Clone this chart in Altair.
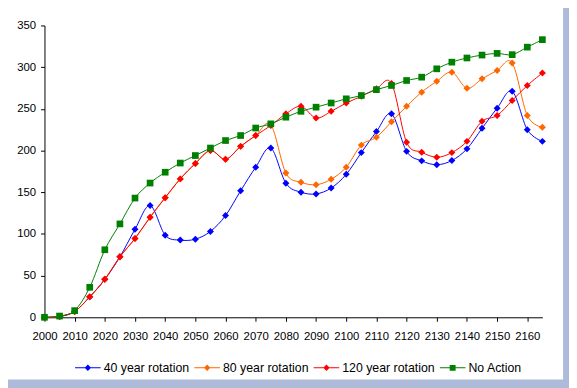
import altair as alt
import pandas as pd

years = [2000, 2005, 2010, 2015, 2020, 2025, 2030, 2035, 2040, 2045, 2050, 2055,
         2060, 2065, 2070, 2075, 2080, 2085, 2090, 2095, 2100, 2105, 2110, 2115,
         2120, 2125, 2130, 2135, 2140, 2145, 2150, 2155, 2160, 2165]

rot40 = [0, 1, 7, 24.5, 45.5, 72.5, 105.5, 134, 98.5, 92.6, 93.7, 103,
         122, 151.7, 180, 203, 160.8, 150, 148, 155, 171.5, 197.5, 222.7, 244,
         199, 187.6, 183, 188, 202, 226.6, 250.7, 271, 225, 211]

rot80 = [0, 1, 7, 24.5, 45.5, 72.5, 94.5, 120, 143.5, 166, 184.5, 200,
         189.5, 205, 218, 231, 173, 162, 159, 165.5, 180, 206.5, 216, 234.5,
         253, 270, 283, 294, 274.7, 286, 296, 305, 242, 228]

rot120 = [0, 1, 7, 24.5, 45.5, 72.5, 94.5, 120, 143.5, 166, 184.5, 200,
          189.5, 205, 218, 230, 244, 253, 239, 247, 257, 265, 274, 280.5,
          210, 198, 192, 197.5, 211, 235, 242, 260, 278, 293]

no_action = [0, 1.5, 8, 36, 81, 112, 143, 161, 174, 185, 194, 203,
             212, 218, 227, 232, 240, 247, 252, 257, 262, 266, 273, 278,
             284, 288, 298, 306, 311, 314.5, 316.5, 315, 324, 333]

series_names = ["40 year rotation", "80 year rotation", "120 year rotation", "No Action"]
series_colors = ["#0000FF", "#FF6600", "#FF0000", "#008000"]
series_shapes = ["diamond", "diamond", "diamond", "square"]

x_ticks = [2000, 2010, 2020, 2030, 2040, 2050, 2060, 2070, 2080,
           2090, 2100, 2110, 2120, 2130, 2140, 2150, 2160]
y_ticks = [0, 50, 100, 150, 200, 250, 300, 350]

rows = []
for name, vals in zip(series_names, [rot40, rot80, rot120, no_action]):
    for yr, v in zip(years, vals):
        rows.append({"year": yr, "value": v, "series": name})
df = pd.DataFrame(rows)

FONT = "Liberation Sans"
BORDER = "#AEBAD9"

x_enc = alt.X(
    "year:Q",
    scale=alt.Scale(domain=[2000, 2165], nice=False, zero=False),
    axis=alt.Axis(values=x_ticks, format="d", title=None, grid=False,
                  tickSize=4, labelPadding=10, domainColor="black",
                  tickColor="black", labelColor="black", labelFont=FONT,
                  labelFontSize=11.5, labelOverlap=False, labelFlush=False),
)
y_enc = alt.Y(
    "value:Q",
    scale=alt.Scale(domain=[0, 350], nice=False),
    axis=alt.Axis(values=y_ticks, title=None, grid=False, tickSize=4,
                  labelPadding=5, domainColor="black", tickColor="black",
                  labelColor="black", labelFont=FONT, labelFontSize=11.5),
)

base = alt.Chart(df)

frame_df = pd.DataFrame({"k": [0]})
right_band = alt.Chart(frame_df).mark_rect(color=BORDER).encode(
    x=alt.value(526), x2=alt.value(540), y=alt.value(-20), y2=alt.value(370))
bottom_band = alt.Chart(frame_df).mark_rect(color=BORDER).encode(
    x=alt.value(-40), x2=alt.value(540), y=alt.value(359), y2=alt.value(370))

layers = []
for name, col, shp in zip(series_names, series_colors, series_shapes):
    sub = base.transform_filter(alt.datum.series == name)
    layers.append(sub.mark_line(color=col, strokeWidth=1, interpolate="cardinal")
                  .encode(x=x_enc, y=y_enc))
    layers.append(sub.mark_point(shape=shp, filled=True, color=col, opacity=1,
                                 size=50 if shp == "diamond" else 46)
                  .encode(x=x_enc, y=y_enc))

line_bar = "M-1,-0.04L1,-0.04L1,0.04L-1,0.04Z "
diamond_path = line_bar + "M0,-0.25L0.25,0L0,0.25L-0.25,0Z"
square_path = line_bar + "M-0.23,-0.23L0.23,-0.23L0.23,0.23L-0.23,0.23Z"
legend_paths = [diamond_path, diamond_path, diamond_path, square_path]

leg = alt.Legend(orient="none", legendX=31, legendY=334, direction="horizontal",
                 title=None, symbolSize=676, symbolStrokeWidth=0,
                 labelFont=FONT, labelFontSize=12.5, labelColor="black",
                 labelOffset=3, columnPadding=5)

legend_layer = base.transform_filter("false").mark_point(filled=True, opacity=1).encode(
    color=alt.Color("series:N", scale=alt.Scale(domain=series_names, range=series_colors), legend=leg),
    shape=alt.Shape("series:N", scale=alt.Scale(domain=series_names, range=legend_paths), legend=leg),
)

chart = alt.layer(right_band, bottom_band, *layers, legend_layer).properties(
    width=505, height=296,
    padding={"left": 37, "top": 15, "right": 27, "bottom": 69},
    autosize=alt.AutoSizeParams(type="none"),
    background="white",
).configure_view(stroke=None)

chart.save("out.html", embed_options={"renderer": "svg", "actions": False})
